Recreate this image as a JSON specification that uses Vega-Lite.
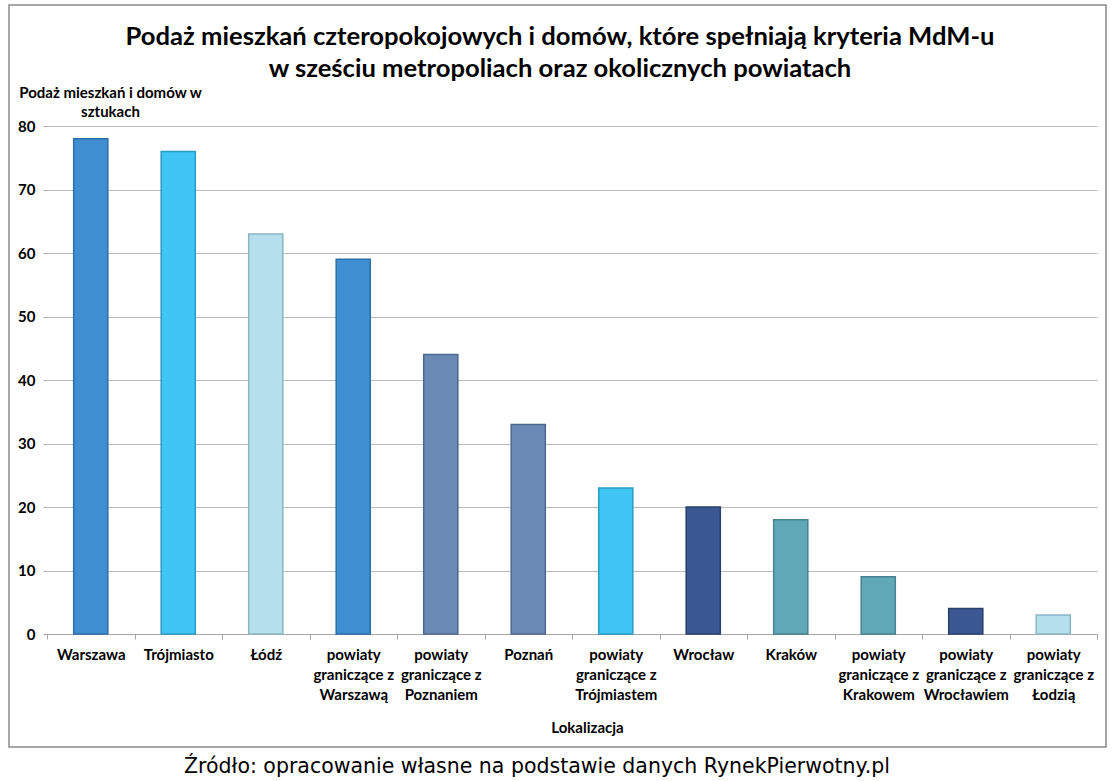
{
  "$schema": "https://vega.github.io/schema/vega-lite/v6.json",
  "autosize": {"type": "none"},
  "width": 1050,
  "height": 508,
  "padding": {"left": 47, "top": 126, "right": 20, "bottom": 147},
  "background": "white",
  "config": {
    "view": {"stroke": null},
    "font": "Lato"
  },
  "title": {
    "text": [
      "Podaż mieszkań czteropokojowych i domów, które spełniają kryteria MdM-u",
      "w sześciu metropoliach oraz okolicznych powiatach"
    ],
    "font": "Lato",
    "fontSize": 25.6,
    "fontWeight": "bold",
    "color": "black",
    "anchor": "middle",
    "frame": "group",
    "dx": -12,
    "lineHeight": 32,
    "offset": -78
  },
  "data": {
    "values": [
      {"lokalizacja": "Warszawa", "metropolia": "Warszawa", "liczba": 78},
      {"lokalizacja": "Trójmiasto", "metropolia": "Trójmiasto", "liczba": 76},
      {"lokalizacja": "Łódź", "metropolia": "Łódź", "liczba": 63},
      {"lokalizacja": "powiaty graniczące z Warszawą", "metropolia": "Warszawa", "liczba": 59},
      {"lokalizacja": "powiaty graniczące z Poznaniem", "metropolia": "Poznań", "liczba": 44},
      {"lokalizacja": "Poznań", "metropolia": "Poznań", "liczba": 33},
      {"lokalizacja": "powiaty graniczące z Trójmiastem", "metropolia": "Trójmiasto", "liczba": 23},
      {"lokalizacja": "Wrocław", "metropolia": "Wrocław", "liczba": 20},
      {"lokalizacja": "Kraków", "metropolia": "Kraków", "liczba": 18},
      {"lokalizacja": "powiaty graniczące z Krakowem", "metropolia": "Kraków", "liczba": 9},
      {"lokalizacja": "powiaty graniczące z Wrocławiem", "metropolia": "Wrocław", "liczba": 4},
      {"lokalizacja": "powiaty graniczące z Łodzią", "metropolia": "Łódź", "liczba": 3}
    ]
  },
  "layer": [
    {
      "mark": {"type": "bar", "width": {"band": 0.39}, "strokeWidth": 1.5},
      "encoding": {
        "x": {
          "field": "lokalizacja",
          "type": "nominal",
          "sort": null,
          "scale": {"paddingInner": 0, "paddingOuter": 0},
          "axis": {
            "title": "Lokalizacja",
            "titleFont": "Lato",
            "titleFontSize": 15,
            "titleFontWeight": "bold",
            "titleColor": "black",
            "titleX": 540,
            "titleY": 98,
            "titleAlign": "center",
            "titleBaseline": "alphabetic",
            "labelAngle": 0,
            "labelFont": "Lato",
            "labelFontSize": 15,
            "labelFontWeight": "bold",
            "labelColor": "black",
            "labelLineHeight": 20,
            "labelPadding": 8,
            "labelLimit": 0,
            "labelExpr": "indexof(datum.label, 'powiaty graniczące z ') === 0 ? ['powiaty', 'graniczące z', substring(datum.label, 21)] : datum.label",
            "tickBand": "extent",
            "tickSize": 5,
            "tickColor": "#A6A6A6",
            "domainColor": "#A6A6A6",
            "domainWidth": 1
          }
        },
        "y": {
          "field": "liczba",
          "type": "quantitative",
          "scale": {"domain": [0, 80], "nice": false},
          "axis": {
            "title": ["Podaż mieszkań i domów w", "sztukach"],
            "titleAngle": 0,
            "titleAlign": "center",
            "titleBaseline": "alphabetic",
            "titleX": 63,
            "titleY": -29,
            "titleLineHeight": 19,
            "titleFont": "Lato",
            "titleFontSize": 15,
            "titleFontWeight": "bold",
            "titleColor": "black",
            "values": [0, 10, 20, 30, 40, 50, 60, 70, 80],
            "labelFont": "Lato",
            "labelFontSize": 15,
            "labelFontWeight": "bold",
            "labelColor": "black",
            "labelPadding": 8,
            "tickSize": 4,
            "tickColor": "#A6A6A6",
            "domain": false,
            "grid": true,
            "gridColor": "#BBBBBB",
            "gridWidth": 1
          }
        },
        "fill": {
          "field": "metropolia",
          "type": "nominal",
          "legend": null,
          "scale": {
            "domain": ["Warszawa", "Trójmiasto", "Łódź", "Poznań", "Wrocław", "Kraków"],
            "range": ["#3E8ED1", "#3FC6F4", "#B5DFEB", "#6A8AB5", "#3B5892", "#61A8B7"]
          }
        },
        "stroke": {
          "field": "metropolia",
          "type": "nominal",
          "legend": null,
          "scale": {
            "domain": ["Warszawa", "Trójmiasto", "Łódź", "Poznań", "Wrocław", "Kraków"],
            "range": ["#2C6EA8", "#2A9CC4", "#8AB6C4", "#4C6890", "#27406E", "#44838F"]
          }
        }
      }
    },
    {
      "data": {"values": [{"ramka": "obramowanie"}]},
      "mark": {"type": "rect", "fill": null, "stroke": "#8A8A8A", "strokeWidth": 1.5},
      "encoding": {
        "x": {"datum": 0, "type": "quantitative", "scale": {"domain": [0, 1], "range": [-38, 1059]}, "axis": null},
        "x2": {"datum": 1},
        "y": {"datum": 99.06, "type": "quantitative", "scale": {"domain": [0, 80], "nice": false}, "axis": null},
        "y2": {"datum": -17.8}
      }
    },
    {
      "data": {"values": [{"zrodlo": "Źródło: opracowanie własne na podstawie danych RynekPierwotny.pl"}]},
      "mark": {"type": "text", "font": "DejaVu Sans", "fontSize": 20.5, "align": "center", "baseline": "alphabetic", "color": "black"},
      "encoding": {
        "x": {"datum": 0.4813, "type": "quantitative", "scale": {"domain": [0, 1], "range": [-38, 1059]}, "axis": null},
        "y": {"datum": -21.9, "type": "quantitative", "scale": {"domain": [0, 80], "nice": false}, "axis": null},
        "text": {"field": "zrodlo", "type": "nominal"}
      }
    }
  ],
  "resolve": {"scale": {"x": "independent", "y": "independent"}, "axis": {"x": "independent", "y": "independent"}}
}
